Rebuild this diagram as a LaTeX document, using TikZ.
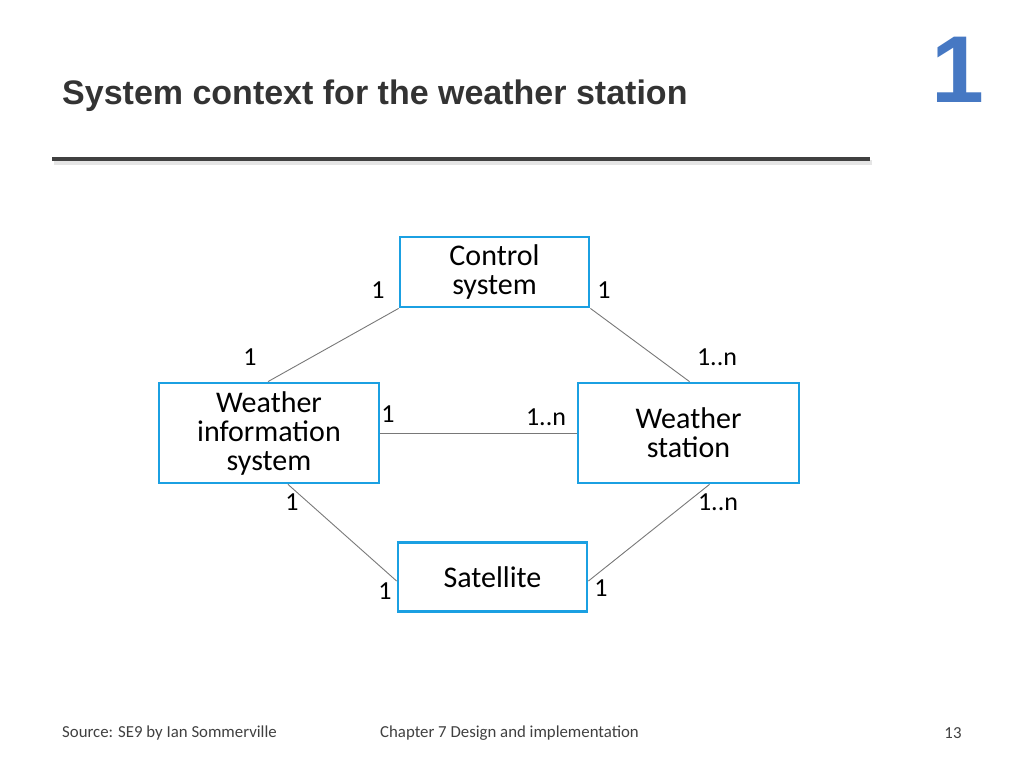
\documentclass[tikz,border=0pt]{standalone}
\usepackage{fontspec}
\setmainfont{Carlito}
\newfontfamily\titlefont{Liberation Sans}
\usetikzlibrary{positioning}
\definecolor{boxblue}{RGB}{27, 160, 226}
\definecolor{linegray}{RGB}{120, 120, 120}
\definecolor{logoblue}{RGB}{70, 120, 195}

\begin{document}
\begin{tikzpicture}[
    x=1bp, y=-1bp,
    cls/.style={rectangle, draw=boxblue, line width=2.8bp, align=center, inner sep=0pt, font=\fontsize{30bp}{29bp}\selectfont},
    mult/.style={font=\fontsize{26bp}{26bp}\selectfont, inner sep=0pt},
    assoc/.style={draw=linegray, line width=0.9bp},
    foot/.style={font=\fontsize{16.8bp}{18bp}\selectfont, text=black!75, inner sep=0pt}
]
\useasboundingbox (0,0) rectangle (1024,768);

% Heading
\node[anchor=west, inner sep=0pt, font=\titlefont\bfseries\fontsize{34bp}{36bp}\selectfont, text=black!80] (title) at (62,96) {System context for the weather station};
\node[font=\titlefont\bfseries\fontsize{95bp}{95bp}\selectfont, text=logoblue, inner sep=0pt] (logo) at (958,70) {1};
\draw[line width=5bp, black!10] (54,162) -- (872,162);
\draw[line width=3.5bp, black!75] (52,159) -- (870,159);

% Classes
\node[cls, minimum width=189bp, minimum height=70bp] (control) at (494.5,272) {Control\\system};
\node[cls, minimum width=220bp, minimum height=100bp] (wis) at (269,433) {Weather\\information\\system};
\node[cls, minimum width=221bp, minimum height=100bp] (station) at (688.5,433) {Weather\\station};
\node[cls, minimum width=189bp, minimum height=69bp] (satellite) at (492.5,577) {Satellite};

% Associations
\draw[assoc] (control.south west) -- ([xshift=-1bp]wis.north);
\draw[assoc] (control.south east) -- ([xshift=1bp]station.north);
\draw[assoc] (wis.east) -- (station.west);
\draw[assoc] ([xshift=19bp]wis.south) -- ([yshift=-4bp]satellite.west);
\draw[assoc] ([xshift=21bp]station.south) -- ([yshift=-4bp]satellite.east);

% Multiplicities
\node[mult] (m1) at (378,290) {1};
\node[mult] (m2) at (604,290) {1};
\node[mult] (m3) at (250,357) {1};
\node[mult] (m4) at (717,357) {1..n};
\node[mult] (m5) at (388,414) {1};
\node[mult] (m6) at (546,417) {1..n};
\node[mult] (m7) at (292,502) {1};
\node[mult] (m8) at (718,502) {1..n};
\node[mult] (m9) at (385,591) {1};
\node[mult] (m10) at (601,588) {1};

% Footer
\node[foot, anchor=west] (source) at (62,733) {Source: SE9 by Ian Sommerville};
\node[foot, anchor=west] (chapter) at (380,733) {Chapter 7 Design and implementation};
\node[foot] (page) at (953,733) {13};
\end{tikzpicture}
\end{document}
